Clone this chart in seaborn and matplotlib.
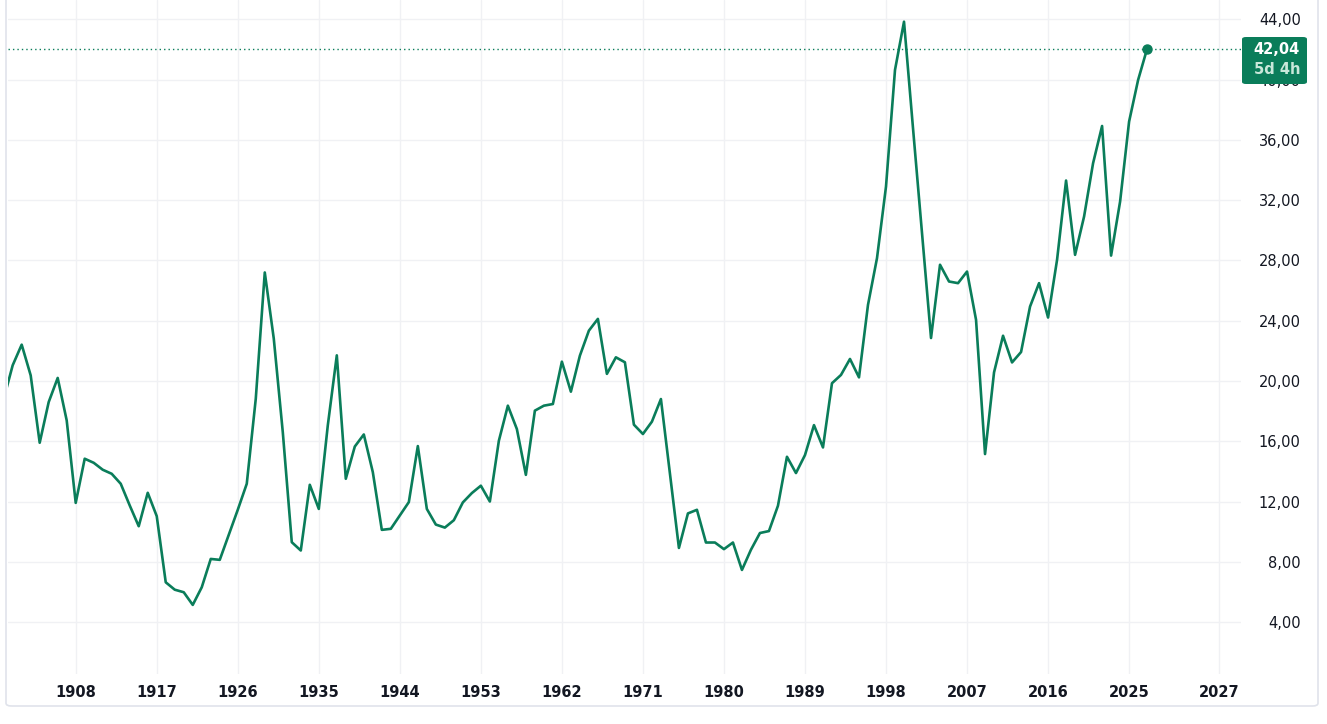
import matplotlib
matplotlib.use("Agg")
import matplotlib.pyplot as plt
import matplotlib.patches as mpatches
import pandas as pd
import seaborn as sns

# годовые значения
years = list(range(1900, 2028))
values = [
    18.8, 21.04, 22.41, 20.37, 15.90, 18.60, 20.20, 17.38, 11.91, 14.84,
    14.57, 14.11, 13.84, 13.18, 11.74, 10.36, 12.58, 11.03, 6.64, 6.15,
    5.98, 5.14, 6.31, 8.19, 8.13, 9.79, 11.45, 13.18, 18.82, 27.20,
    22.81, 16.61, 9.30, 8.75, 13.11, 11.51, 17.05, 21.70, 13.51, 15.65,
    16.45, 13.95, 10.12, 10.19, 11.07, 11.96, 15.68, 11.51, 10.47, 10.27,
    10.76, 11.94, 12.56, 13.05, 12.00, 16.03, 18.36, 16.81, 13.77, 18.03,
    18.36, 18.47, 21.28, 19.29, 21.68, 23.34, 24.12, 20.47, 21.57, 21.24,
    17.10, 16.48, 17.30, 18.80, 13.87, 8.92, 11.21, 11.45, 9.28, 9.28,
    8.84, 9.28, 7.46, 8.80, 9.91, 10.04, 11.72, 14.97, 13.89, 15.08,
    17.07, 15.59, 19.85, 20.40, 21.46, 20.24, 25.05, 28.15, 32.90, 40.64,
    43.84, 36.77, 29.81, 22.85, 27.71, 26.60, 26.49, 27.26, 24.06, 15.15,
    20.57, 23.00, 21.23, 21.92, 24.94, 26.49, 24.21, 28.04, 33.30, 28.37,
    30.91, 34.45, 36.92, 28.32, 31.90, 37.21, 39.97, 42.04,
]
last_value = 42.04
countdown = "5d 4h"

x_ticks = [1908, 1917, 1926, 1935, 1944, 1953, 1962, 1971, 1980, 1989, 1998, 2007, 2016, 2025, 2035]
x_labels = ["1908", "1917", "1926", "1935", "1944", "1953", "1962", "1971",
            "1980", "1989", "1998", "2007", "2016", "2025", "2027"]
y_ticks = [4, 8, 12, 16, 20, 24, 28, 32, 36, 40, 44]

df = pd.DataFrame({"year": years, "value": values})

green = "#0a7d5a"
W, H = 1327, 724

sns.set_style("white")
plt.rcParams["font.family"] = ["DejaVu Sans"]

fig = plt.figure(figsize=(W / 100, H / 100), dpi=100)
ax = fig.add_axes([8 / W, 50 / H, 1233 / W, 674 / H])

sns.lineplot(data=df, x="year", y="value", ax=ax, color=green, linewidth=1.9)
ax.plot([years[-1]], [last_value], "o", color=green, markersize=6.5, zorder=5)
ax.axhline(last_value, color=green, linestyle=(0, (1, 2.2)), linewidth=1.0)

ax.set_xlim(1900.48, 2037.43)
ax.set_ylim(0.555, 45.28)

ax.set_xticks(x_ticks)
ax.set_xticklabels(x_labels)
ax.set_yticks(y_ticks)
ax.set_yticklabels([f"{v:.2f}".replace(".", ",") for v in y_ticks])

ax.yaxis.tick_right()
ax.tick_params(axis="x", length=0, pad=8, labelsize=10.5, colors="#131722")
ax.tick_params(axis="y", length=0, pad=43, labelsize=10.5, colors="#131722")
for lab in ax.get_xticklabels():
    lab.set_fontweight("bold")
for lab in ax.get_yticklabels():
    lab.set_horizontalalignment("right")

ax.grid(True, color="#f0f1f4", linewidth=1)
ax.set_xlabel("")
ax.set_ylabel("")
for s in ax.spines.values():
    s.set_visible(False)

# рамка вокруг графика
frame = mpatches.FancyBboxPatch((6 / W, 18 / H), 1312 / W, 720 / H,
                                boxstyle="round,pad=0,rounding_size=0.004",
                                transform=fig.transFigure, fill=False,
                                edgecolor="#e0e3eb", linewidth=1.2)
fig.patches.append(frame)

# метка последнего значения
box = mpatches.FancyBboxPatch((1242 / W, (H - 84) / H), 65 / W, 47 / H,
                              boxstyle="round,pad=0,rounding_size=0.003",
                              transform=fig.transFigure, facecolor=green,
                              edgecolor="none", zorder=5)
fig.patches.append(box)
fig.text(1300 / W, (H - 49) / H, f"{last_value:.2f}".replace(".", ","),
         ha="right", va="center", color="white", fontsize=10.5,
         fontweight="bold", zorder=6)
fig.text(1300 / W, (H - 70) / H, countdown, ha="right", va="center",
         color="#c9e8da", fontsize=10.5, fontweight="bold", zorder=6)

fig.savefig("out.png", dpi=100)
